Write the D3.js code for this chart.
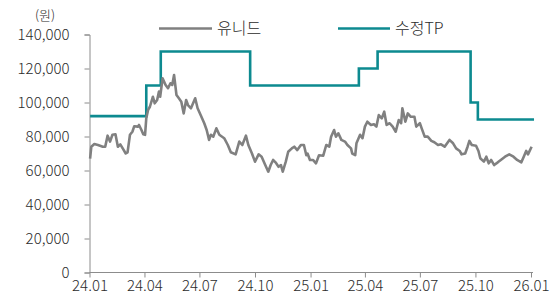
<!DOCTYPE html>
<html><head><meta charset="utf-8">
<script src="https://cdn.jsdelivr.net/npm/d3@7"></script>
<style>
body{margin:0;background:#fff;}
svg{display:block;font-family:"Noto Sans CJK KR","Noto Sans",sans-serif;}
</style></head>
<body><svg id="c" width="553" height="300"></svg>
<script>
const seriesNames = ["유니드", "수정TP"];
const unitLabel = "(원)";
const yTicks = [0, 20000, 40000, 60000, 80000, 100000, 120000, 140000];
const xTickLabels = ["24.01","24.04","24.07","24.10","25.01","25.04","25.07","25.10","26.01"];
const xTickDates = ["2024-01-01","2024-04-01","2024-07-01","2024-10-01","2025-01-01","2025-04-01","2025-07-01","2025-10-01","2026-01-01"];

// 유니드 price (thousand won)
const priceDates = ["2024-01-02","2024-01-04","2024-01-09","2024-01-15","2024-01-23","2024-01-27","2024-01-31","2024-02-04","2024-02-08","2024-02-13","2024-02-17","2024-02-21","2024-02-25","2024-03-01","2024-03-04","2024-03-08","2024-03-12","2024-03-15","2024-03-21","2024-03-23","2024-03-27","2024-03-30","2024-04-02","2024-04-04","2024-04-07","2024-04-10","2024-04-15","2024-04-18","2024-04-22","2024-04-25","2024-04-27","2024-05-01","2024-05-06","2024-05-10","2024-05-14","2024-05-17","2024-05-20","2024-05-24","2024-05-28","2024-06-01","2024-06-05","2024-06-09","2024-06-12","2024-06-17","2024-06-24","2024-06-28","2024-07-03","2024-07-09","2024-07-13","2024-07-17","2024-07-20","2024-07-24","2024-07-29","2024-08-03","2024-08-11","2024-08-17","2024-08-22","2024-08-30","2024-09-05","2024-09-10","2024-09-16","2024-09-20","2024-09-26","2024-10-01","2024-10-07","2024-10-12","2024-10-18","2024-10-23","2024-10-27","2024-10-31","2024-11-04","2024-11-09","2024-11-13","2024-11-16","2024-11-21","2024-11-25","2024-12-01","2024-12-05","2024-12-10","2024-12-16","2024-12-21","2024-12-25","2024-12-27","2024-12-31","2025-01-05","2025-01-10","2025-01-15","2025-01-22","2025-01-27","2025-02-01","2025-02-04","2025-02-09","2025-02-12","2025-02-16","2025-02-21","2025-02-27","2025-03-03","2025-03-09","2025-03-11","2025-03-16","2025-03-18","2025-03-24","2025-03-28","2025-04-01","2025-04-05","2025-04-11","2025-04-16","2025-04-20","2025-04-24","2025-04-29","2025-05-03","2025-05-07","2025-05-12","2025-05-17","2025-05-22","2025-05-27","2025-05-31","2025-06-02","2025-06-07","2025-06-11","2025-06-16","2025-06-22","2025-06-25","2025-07-01","2025-07-04","2025-07-09","2025-07-14","2025-07-20","2025-07-25","2025-07-31","2025-08-05","2025-08-11","2025-08-19","2025-08-25","2025-08-30","2025-09-05","2025-09-08","2025-09-14","2025-09-18","2025-09-21","2025-09-25","2025-10-02","2025-10-06","2025-10-09","2025-10-15","2025-10-19","2025-10-23","2025-10-27","2025-11-01","2025-11-07","2025-11-12","2025-11-19","2025-11-26","2025-12-03","2025-12-09","2025-12-16","2025-12-20","2025-12-24","2025-12-27","2026-01-02"];
const priceValues = [67,74,75.6,75,74,74,80.5,77,81,81.3,74,75.4,73,70,70.7,81,82.8,86,85.8,86.8,83.8,81.3,81,90.7,95.6,97.5,103.4,99.5,101.5,106.4,103.4,114.2,110.3,108.4,111.3,110.3,116.2,104.4,102.5,100.5,93.6,101.5,98.5,96.6,102.5,96.6,92.6,87.8,83.8,78,81,79.9,84.8,81,79,75,70.7,69.5,77,75,80.5,75,70,65.2,69.5,68.1,63.2,59.3,63.2,66.2,64.8,62.2,63.2,59.3,65.2,71,73,74,72,75,75,69,70,66.2,66.2,64.2,69,68.7,75,74,79.9,83.8,79.9,81.9,78,77,75,73,70,69,76,81,79,85.8,88.7,86.8,87.2,85.8,92.6,90.7,94.6,86.8,87.8,85.8,82.8,89.7,87.8,96.6,88.7,93.6,91.6,91.6,85.8,87.8,84.8,79.9,79.9,77.4,76.6,75,75.4,74,78,76,73,71.5,69.5,70,74,77.4,75,74.6,71.5,67.2,65.2,68.1,64.2,66.2,63.2,64.8,66.2,68.1,69.5,68.1,66.2,64.8,68.1,71.5,69.5,74];

// 수정TP (target price, thousand won) — step changes
const tpDates = ["2024-01-02","2024-04-04","2024-04-28","2024-09-23","2025-03-22","2025-04-22","2025-09-23","2025-10-05","2026-01-06"];
const tpValues = [92,110,130,110,120,130,100,90,90];

const parse = d3.timeParse("%Y-%m-%d");
const price = priceDates.map((d,i)=>({date:parse(d), v:priceValues[i]*1000}));
const tp = tpDates.map((d,i)=>({date:parse(d), v:tpValues[i]*1000}));

const svg = d3.select("#c");
const x = d3.scaleTime().domain([parse("2024-01-01"), parse("2026-01-01")]).range([89.5, 531]);
const y = d3.scaleLinear().domain([0,140000]).range([272.5, 34.5]);

const axisColor = "#8c8c8c";
const textColor = "#2b2b2b";
const fontFam = '"Noto Sans CJK KR","Noto Sans",sans-serif';

// Y axis
const yAxis = svg.append("g").attr("transform","translate(89.5,0)")
  .call(d3.axisLeft(y).tickValues(yTicks).tickSize(5).tickPadding(15).tickFormat(d3.format(",")));
yAxis.select(".domain").attr("stroke",axisColor);
yAxis.selectAll(".tick line").attr("stroke",axisColor);
yAxis.selectAll(".tick text").attr("fill",textColor).style("font-size","15px")
  .style("font-weight","300").style("font-family",fontFam);

// X axis
const xAxis = svg.append("g").attr("transform","translate(0,272.5)")
  .call(d3.axisBottom(x).tickValues(xTickDates.map(parse)).tickSize(5).tickPadding(3)
    .tickFormat((d,i)=>xTickLabels[i]));
xAxis.select(".domain").attr("stroke",axisColor).attr("d","M89.5,0H533");
xAxis.selectAll(".tick line").attr("stroke",axisColor);
xAxis.selectAll(".tick text").attr("fill",textColor).style("font-size","15px")
  .style("font-weight","300").style("font-family",fontFam);

// unit label
svg.append("text").attr("x",45).attr("y",20).attr("text-anchor","middle")
  .attr("fill",textColor).style("font-size","13px").style("font-weight","300").text(unitLabel);

const colors = ["#808080","#0d8a90"];

// TP step line
svg.append("path").datum(tp)
  .attr("fill","none").attr("stroke",colors[1]).attr("stroke-width",2.6)
  .attr("d", d3.line().x(d=>x(d.date)).y(d=>y(d.v)).curve(d3.curveStepAfter));

// price line
svg.append("path").datum(price)
  .attr("fill","none").attr("stroke",colors[0]).attr("stroke-width",2.6).attr("stroke-linejoin","round")
  .attr("d", d3.line().x(d=>x(d.date)).y(d=>y(d.v)));

// legend
const legendItems = [{name:seriesNames[0], x1:159, x2:212, tx:217},{name:seriesNames[1], x1:338, x2:390, tx:395}];
legendItems.forEach((it,i)=>{
  svg.append("line").attr("x1",it.x1).attr("x2",it.x2).attr("y1",28.5).attr("y2",28.5)
    .attr("stroke",colors[i]).attr("stroke-width",2.6);
  svg.append("text").attr("x",it.tx).attr("y",34).attr("fill",textColor)
    .style("font-size","16px").style("font-weight","300").text(it.name);
});
</script></body></html>
